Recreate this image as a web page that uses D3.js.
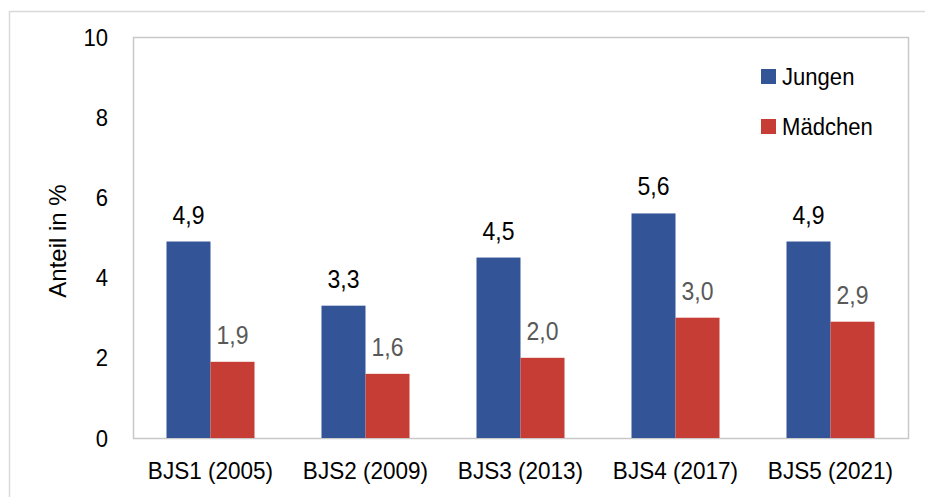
<!DOCTYPE html>
<html>
<head>
<meta charset="utf-8">
<script src="https://cdn.jsdelivr.net/npm/d3@7"></script>
<style>
  body { margin: 0; background: #fff; }
  text { font-family: "Liberation Sans", Arial, sans-serif; }
</style>
</head>
<body>
<div id="chart"></div>
<script>
// data
var categories = ["BJS1 (2005)", "BJS2 (2009)", "BJS3 (2013)", "BJS4 (2017)", "BJS5 (2021)"];
var seriesNames = ["Jungen", "Mädchen"];
var jungen = [4.9, 3.3, 4.5, 5.6, 4.9];
var maedchen = [1.9, 1.6, 2.0, 3.0, 2.9];
var yTicks = [0, 2, 4, 6, 8, 10];

var W = 925, H = 497;
var plot = { left: 133, right: 908, top: 37, bottom: 438 };
var colors = { "Jungen": "#335597", "Mädchen": "#c63d36" };
var labelColors = { "Jungen": "#000000", "Mädchen": "#595959" };
var SX = 0.92; // text looks horizontally squeezed

var svg = d3.select("#chart").append("svg")
    .attr("width", W)
    .attr("height", H);

// outer frame (only left + top show in the picture)
svg.append("path")
    .attr("d", "M9.5," + H + "V11.5H" + W)
    .attr("fill", "none")
    .attr("stroke", "#d9d9d9")
    .attr("stroke-width", 1.5);

var x0 = d3.scaleBand()
    .domain(categories)
    .range([plot.left, plot.right]);

var x1 = d3.scaleBand()
    .domain(seriesNames)
    .range([0, x0.bandwidth()])
    .paddingOuter(0.761);

var y = d3.scaleLinear()
    .domain([0, 10])
    .range([plot.bottom, plot.top]);

// plot area border
svg.append("rect")
    .attr("x", plot.left + 0.5)
    .attr("y", plot.top + 0.5)
    .attr("width", plot.right - plot.left)
    .attr("height", plot.bottom - plot.top)
    .attr("fill", "none")
    .attr("stroke", "#c8c8c8")
    .attr("stroke-width", 1.5);

function squeezed(sel, x, yy) {
    return sel.attr("transform", "translate(" + x + "," + yy + ") scale(" + SX + ",1)");
}

// y ticks (no tick marks, only labels)
svg.append("g").selectAll("text")
    .data(yTicks)
    .enter()
    .append("text")
    .each(function(d) { squeezed(d3.select(this), 108, y(d) + 8.5); })
    .attr("text-anchor", "end")
    .attr("font-size", 24)
    .attr("fill", "#000")
    .text(function(d) { return d; });

// y axis title
svg.append("text")
    .attr("transform", "translate(66,241) rotate(-90)")
    .attr("text-anchor", "middle")
    .attr("font-size", 24)
    .attr("fill", "#000")
    .text("Anteil in %");

// category labels
svg.append("g").selectAll("text")
    .data(categories)
    .enter()
    .append("text")
    .each(function(d) { squeezed(d3.select(this), x0(d) + x0.bandwidth() / 2, 479); })
    .attr("text-anchor", "middle")
    .attr("font-size", 24.5)
    .attr("fill", "#000")
    .text(function(d) { return d; });

// bars
var rows = categories.map(function(c, i) {
    return { cat: c, values: [
        { name: "Jungen", value: jungen[i] },
        { name: "Mädchen", value: maedchen[i] }
    ] };
});

var fmt = function(v) { return d3.format(".1f")(v).replace(".", ","); };

var groups = svg.append("g").selectAll("g")
    .data(rows)
    .enter()
    .append("g")
    .attr("transform", function(d) { return "translate(" + x0(d.cat) + ",0)"; });

groups.selectAll("rect")
    .data(function(d) { return d.values; })
    .enter()
    .append("rect")
    .attr("x", function(d) { return x1(d.name); })
    .attr("y", function(d) { return y(d.value); })
    .attr("width", x1.bandwidth())
    .attr("height", function(d) { return y(0) - y(d.value); })
    .attr("fill", function(d) { return colors[d.name]; });

groups.selectAll("text")
    .data(function(d) { return d.values; })
    .enter()
    .append("text")
    .each(function(d) { squeezed(d3.select(this), x1(d.name) + x1.bandwidth() / 2, y(d.value) - 18); })
    .attr("text-anchor", "middle")
    .attr("font-size", 25)
    .attr("fill", function(d) { return labelColors[d.name]; })
    .text(function(d) { return fmt(d.value); });

// legend
var legend = svg.append("g").selectAll("g")
    .data(seriesNames)
    .enter()
    .append("g")
    .attr("transform", function(d, i) { return "translate(761," + (69 + i * 50) + ")"; });

legend.append("rect")
    .attr("width", 15)
    .attr("height", 15)
    .attr("fill", function(d) { return colors[d]; });

legend.append("text")
    .each(function() { squeezed(d3.select(this), 21, 16); })
    .attr("font-size", 24)
    .attr("fill", "#000")
    .text(function(d) { return d; });
</script>
</body>
</html>
